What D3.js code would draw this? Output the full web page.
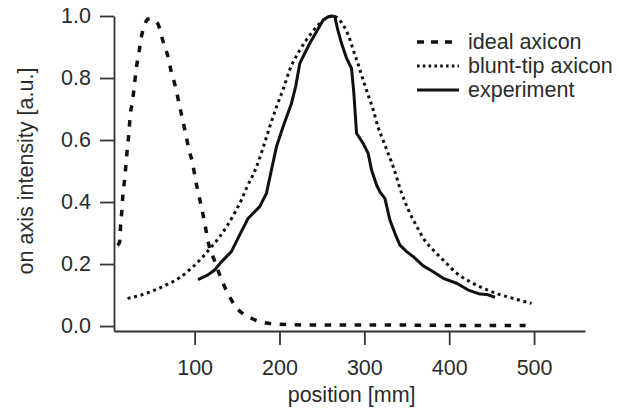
<!DOCTYPE html>
<html>
<head>
<meta charset="utf-8">
<script src="https://cdn.jsdelivr.net/npm/d3@7/dist/d3.min.js"></script>
<style>
  html, body { margin: 0; padding: 0; background: #fff; }
  svg { display: block; font-family: "Liberation Sans", Arial, Helvetica, sans-serif; }
  .axis path, .axis line { stroke: #333; stroke-width: 1.8; }
  .axis text { fill: #2b2b2b; font-size: 21.5px; }
  .label { fill: #2b2b2b; font-size: 21.5px; }
</style>
</head>
<body>
<svg id="chart" width="620" height="412"></svg>
<script>
// On-axis intensity vs. position for three axicon cases
const xTicks = [100, 200, 300, 400, 500];
const yTicks = [0.0, 0.2, 0.4, 0.6, 0.8, 1.0];

const seriesNames = ["ideal axicon", "blunt-tip axicon", "experiment"];

const idealPos = [9, 11.5, 12.7, 14.2, 15.4, 17.4, 19.4, 20.6, 22.5, 24.1, 26.5, 29.2, 31.2, 34.3, 37.1, 41, 45, 49, 53, 56.7, 62.6, 68.5, 72.5, 77.6, 81.5, 85.5, 89.4, 93.3, 98, 101.2, 105.1, 109.1, 113, 116.9, 123.6, 129.5, 137.4, 149.2, 166.9, 186.5, 208, 250, 300, 350, 400, 450, 490];
const idealVal = [0.26, 0.27, 0.32, 0.37, 0.42, 0.47, 0.53, 0.57, 0.62, 0.68, 0.72, 0.78, 0.83, 0.88, 0.93, 0.97, 0.99, 0.99, 0.985, 0.975, 0.92, 0.87, 0.82, 0.77, 0.72, 0.67, 0.62, 0.57, 0.52, 0.47, 0.42, 0.37, 0.315, 0.26, 0.21, 0.165, 0.115, 0.06, 0.025, 0.009, 0.005, 0.003, 0.003, 0.003, 0.002, 0.002, 0.002];

const bluntPos = [21, 37, 53, 68.5, 84, 96, 108, 120, 129.5, 139, 147, 155, 161, 173, 181, 188.5, 196.5, 204, 212, 224, 236, 247.5, 256, 263, 270, 275, 281, 287, 293, 298.5, 304.5, 310.5, 316, 322, 328, 334, 344, 352, 362, 371, 383, 395, 409, 424.5, 440, 456, 475.5, 497];
const bluntVal = [0.089, 0.10, 0.116, 0.135, 0.159, 0.186, 0.218, 0.256, 0.288, 0.326, 0.364, 0.406, 0.444, 0.514, 0.578, 0.643, 0.707, 0.761, 0.826, 0.89, 0.939, 0.976, 0.995, 1.0, 0.99, 0.971, 0.939, 0.89, 0.842, 0.794, 0.745, 0.697, 0.643, 0.60, 0.557, 0.514, 0.428, 0.374, 0.32, 0.277, 0.24, 0.207, 0.17, 0.143, 0.122, 0.105, 0.089, 0.073];

const expPos = [104, 115.7, 123.6, 131.5, 143.3, 153.1, 162.9, 176.7, 184.6, 190.5, 196.4, 204.2, 214.1, 219.2, 223.9, 235.7, 243.6, 251.4, 257, 261.3, 265.2, 268.7, 273.1, 279, 284.9, 287.6, 290.8, 298.6, 304.5, 308.5, 314.4, 318.3, 324.2, 330.1, 336, 341.9, 349.8, 357.6, 369.4, 381.2, 393, 408.8, 422.5, 436.3, 444.2, 454];
const expVal = [0.15, 0.165, 0.181, 0.207, 0.24, 0.294, 0.347, 0.385, 0.428, 0.503, 0.578, 0.643, 0.718, 0.774, 0.847, 0.912, 0.949, 0.987, 0.997, 1.0, 0.998, 0.955, 0.912, 0.864, 0.831, 0.752, 0.622, 0.589, 0.557, 0.503, 0.455, 0.433, 0.412, 0.342, 0.299, 0.261, 0.24, 0.224, 0.194, 0.175, 0.154, 0.138, 0.116, 0.103, 0.102, 0.093];

const svg = d3.select("#chart");

const x = d3.scaleLinear().domain([5, 560]).range([114, 585]);
const y = d3.scaleLinear().domain([-0.016, 1.0]).range([331, 16]);

// Axes
svg.append("g")
  .attr("class", "axis")
  .attr("transform", "translate(0,331)")
  .call(d3.axisBottom(x).tickValues(xTicks).tickFormat(d3.format("d"))
        .tickSize(14).tickSizeOuter(0).tickPadding(15));

svg.append("g")
  .attr("class", "axis")
  .attr("transform", "translate(114,0)")
  .call(d3.axisLeft(y).tickValues(yTicks).tickFormat(d3.format(".1f"))
        .tickSize(14).tickSizeOuter(0).tickPadding(9));

// Axis titles
svg.append("text").attr("class", "label")
  .attr("x", x(285)).attr("y", 402)
  .attr("text-anchor", "middle")
  .text("position [mm]");

svg.append("text").attr("class", "label")
  .attr("transform", "translate(33,171) rotate(-90)")
  .attr("text-anchor", "middle")
  .text("on axis intensity [a.u.]");

// Curves
const styles = [
  { dash: "6.5,8.5", width: 3.5, curve: d3.curveMonotoneX },
  { dash: "3,3.7", width: 3, curve: d3.curveMonotoneX },
  { dash: null, width: 3, curve: d3.curveLinear }
];
const series = [
  d3.zip(idealPos, idealVal),
  d3.zip(bluntPos, bluntVal),
  d3.zip(expPos, expVal)
];

series.forEach((pts, i) => {
  const line = d3.line().x(d => x(d[0])).y(d => y(d[1])).curve(styles[i].curve);
  svg.append("path")
    .datum(pts)
    .attr("d", line)
    .attr("fill", "none")
    .attr("stroke", "#111")
    .attr("stroke-width", styles[i].width)
    .attr("stroke-linejoin", "round")
    .attr("stroke-dasharray", styles[i].dash);
});

// Legend
const legend = svg.append("g");
const legendRows = [42, 66, 90];
seriesNames.forEach((name, i) => {
  legend.append("line")
    .attr("x1", 417).attr("x2", 459)
    .attr("y1", legendRows[i]).attr("y2", legendRows[i])
    .attr("stroke", "#111")
    .attr("stroke-width", styles[i].width)
    .attr("stroke-dasharray", i === 0 ? "7,7" : (i === 1 ? "2.6,3.2" : null));
  legend.append("text").attr("class", "label")
    .attr("x", 468).attr("y", legendRows[i] + 7)
    .text(name);
});
</script>
</body>
</html>
